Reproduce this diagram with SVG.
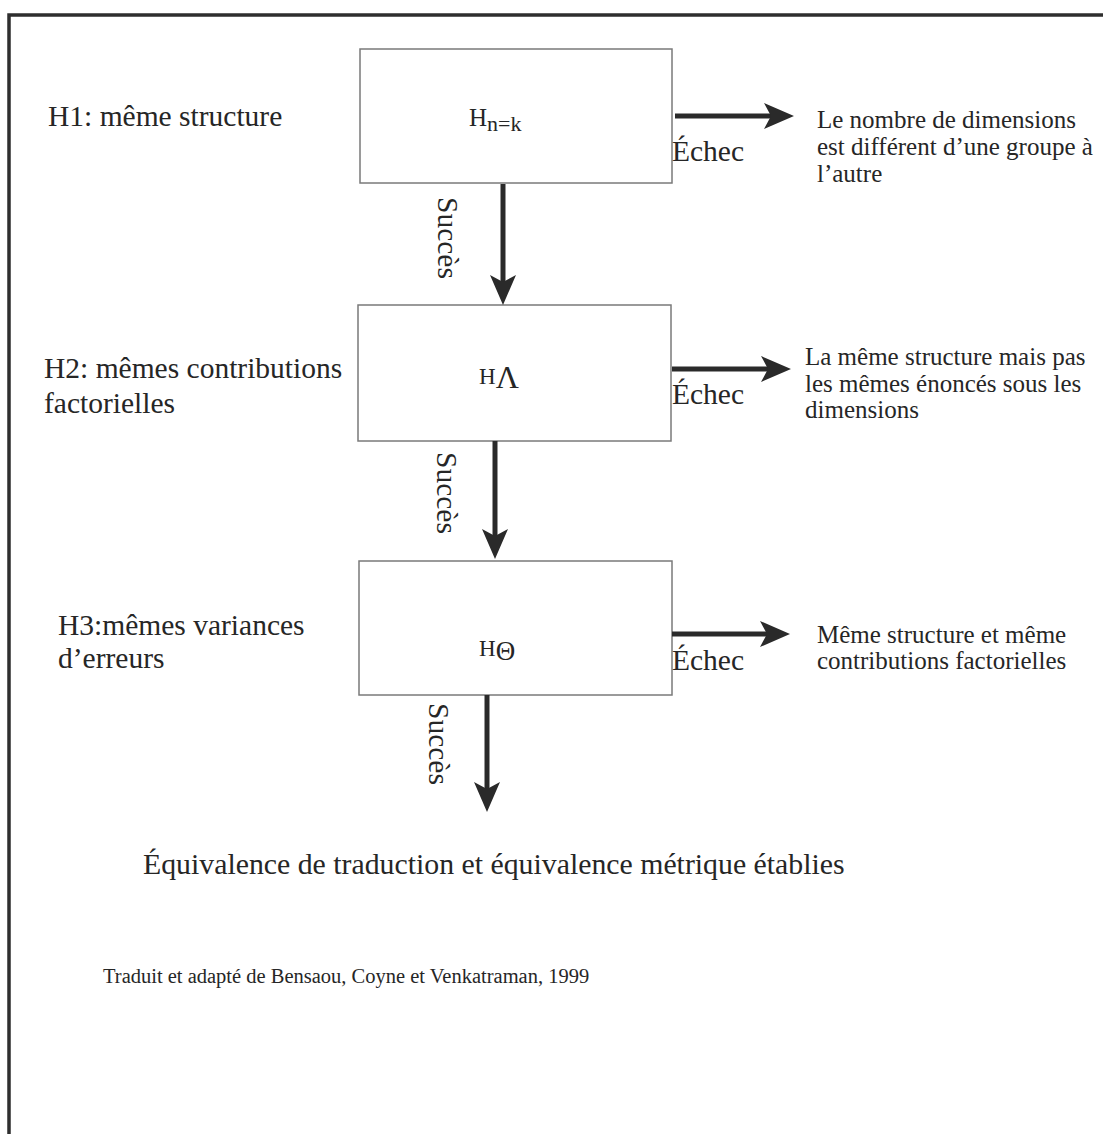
<svg xmlns="http://www.w3.org/2000/svg" width="1103" height="1134" viewBox="0 0 1103 1134">
<defs>
<style>
.t{font-family:"Liberation Serif","Times New Roman",serif;fill:#262626}
.lab{font-size:29.5px}
.side{font-size:25px}
.box{fill:#fff;stroke:#7a7a7a;stroke-width:1.5}
.conn{stroke:#2a2a2a;stroke-width:5;fill:none;marker-end:url(#ah)}
.frame{stroke:#2e2e2e;stroke-width:3.5;fill:none}
</style>
<marker id="ah" viewBox="0 0 30 26" refX="18" refY="13" markerWidth="30" markerHeight="26" markerUnits="userSpaceOnUse" orient="auto">
<path d="M0,0 L30,13 L0,26 L7,13 Z" fill="#2a2a2a"/>
</marker>
</defs>
<rect width="1103" height="1134" fill="#fff"/>
<path class="frame" d="M1103,15 L9,15 L9,1134"/>

<g id="labels">
<text class="t lab" x="48" y="126">H1: même structure</text>
<text class="t lab" x="44" y="378">H2: mêmes contributions</text>
<text class="t lab" x="44" y="413">factorielles</text>
<text class="t lab" x="58" y="635">H3:mêmes variances</text>
<text class="t lab" x="58" y="668">d’erreurs</text>
</g>

<g id="node-h1">
<rect class="box" x="360" y="49" width="312" height="134"/>
<text class="t" x="469" y="126" font-size="25">H<tspan font-size="22" dy="5">n=k</tspan></text>
</g>
<g id="node-h2">
<rect class="box" x="358" y="305" width="313" height="136"/>
<text class="t" x="479" y="384" font-size="23">H<tspan font-size="32" dy="4">Λ</tspan></text>
</g>
<g id="node-h3">
<rect class="box" x="359" y="561" width="313" height="134"/>
<text class="t" x="479" y="656" font-size="23">H<tspan font-size="27" dy="4">Θ</tspan></text>
</g>

<g id="connectors">
<line class="conn" x1="675" y1="116" x2="782" y2="116"/>
<line class="conn" x1="672" y1="369" x2="779" y2="369"/>
<line class="conn" x1="672" y1="634" x2="778" y2="634"/>
<line class="conn" x1="503" y1="184" x2="503" y2="293"/>
<line class="conn" x1="495" y1="441" x2="495" y2="547"/>
<line class="conn" x1="487" y1="695" x2="487" y2="800"/>
<text class="t lab" x="672" y="161">Échec</text>
<text class="t lab" x="672" y="404">Échec</text>
<text class="t lab" x="672" y="670">Échec</text>
<text class="t lab" transform="translate(438,197) rotate(90)">Succès</text>
<text class="t lab" transform="translate(437,452) rotate(90)">Succès</text>
<text class="t lab" transform="translate(429,703) rotate(90)">Succès</text>
</g>

<g id="outcome-1">
<text class="t side" x="817" y="128">Le nombre de dimensions</text>
<text class="t side" x="817" y="155">est différent d’une groupe à</text>
<text class="t side" x="817" y="182">l’autre</text>
</g>
<g id="outcome-2">
<text class="t side" x="805" y="365">La même structure mais pas</text>
<text class="t side" x="805" y="392">les mêmes énoncés sous les</text>
<text class="t side" x="805" y="418">dimensions</text>
</g>
<g id="outcome-3">
<text class="t side" x="817" y="643">Même structure et même</text>
<text class="t side" x="817" y="669">contributions factorielles</text>
</g>

<g id="result">
<text class="t" x="143" y="874" font-size="29.8">Équivalence de traduction et équivalence métrique établies</text>
</g>
<text class="t" x="103" y="983" font-size="20.5">Traduit et adapté de Bensaou, Coyne et Venkatraman, 1999</text>
</svg>
